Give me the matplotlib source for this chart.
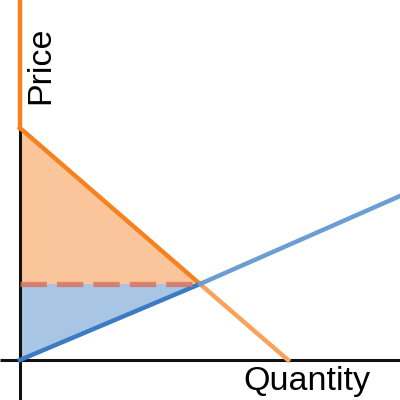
import matplotlib.pyplot as plt

# demand / supply lines (quantity, price)
demand_q = [0, 9, 13.4]
demand_p = [11.6, 3.8, 0]
supply_q = [0, 9, 19]
supply_p = [0, 3.8, 8.2]
eq_q, eq_p = 9, 3.8

dark_orange = "#f5821f"
light_orange = "#f8a25c"
dark_blue = "#3b7bc4"
light_blue = "#6b9ed2"

plt.rcParams["font.family"] = ["Liberation Sans", "DejaVu Sans"]

fig = plt.figure(figsize=(4, 4), dpi=100)
ax = fig.add_axes([0, 0, 1, 1])
ax.set_xlim(-1, 19)
ax.set_ylim(-2, 18)
ax.axis("off")

# surplus areas
ax.fill([0, eq_q, 0], [demand_p[0], eq_p, eq_p], color="#fbc59b", lw=0)
ax.fill([0, eq_q, 0], [eq_p, eq_p, 0], color="#a8c5e3", lw=0)

# axes
ax.plot([0, 0], [-2, 18], color="#111111", lw=2.2, solid_capstyle="butt")
ax.plot([-1, 19], [0, 0], color="#111111", lw=2.2, solid_capstyle="butt")

# demand
ax.plot([0, 0], [demand_p[0], 18], color=dark_orange, lw=3.2)
ax.plot(demand_q[:2], demand_p[:2], color=dark_orange, lw=3.2)
ax.plot(demand_q[1:], demand_p[1:], color=light_orange, lw=3.2)

# supply
ax.plot(supply_q[:2], supply_p[:2], color=dark_blue, lw=3.2)
ax.plot(supply_q[1:], supply_p[1:], color=light_blue, lw=3.2)

# price line
ax.plot([0, eq_q], [eq_p, eq_p], color="#d9705e", lw=3.8, alpha=0.8,
        dashes=(5.0, 1.9))

ax.text(1.8, 16.7, "Price", rotation=90, fontsize=24.5, ha="right", va="top")
ax.text(11.15, -1.5, "Quantity", fontsize=24.5, ha="left", va="baseline")

fig.savefig("out.png", dpi=100)
